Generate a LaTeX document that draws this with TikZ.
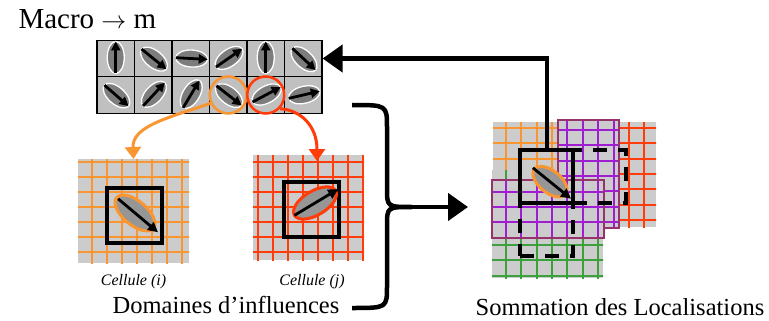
\documentclass[tikz,border=0pt]{standalone}
\usepackage{fontspec}
\setmainfont{Liberation Serif}
\usetikzlibrary{arrows.meta}
\definecolor{macgray}{RGB}{192,192,192}
\definecolor{patchgray}{RGB}{204,204,204}
\definecolor{ellgray}{RGB}{125,125,125}
\definecolor{ellgray2}{RGB}{150,150,150}
\definecolor{orgc}{RGB}{250,150,50}
\definecolor{redc}{RGB}{255,60,10}
\definecolor{purc}{RGB}{160,30,210}
\definecolor{purb}{RGB}{150,50,110}
\definecolor{grnc}{RGB}{60,160,60}

\begin{document}
\begin{tikzpicture}[x=1pt, y=-1pt,
    mcell/.style={rectangle, draw=black, fill=macgray, line width=1.2pt, minimum width=37.5pt, minimum height=36.5pt, inner sep=0pt},
    plaque/.style={rectangle, fill=patchgray, inner sep=0pt, outer sep=0pt},
    glines/.style={line width=2pt},
    orient/.style={fill=ellgray, draw=white, line width=1.3pt},
    infl/.style={fill=ellgray2, line width=3pt},
    vecarrow/.style={-{Triangle[length=9pt, width=9pt]}, line width=2.8pt},
    vecarrow2/.style={-{Triangle[length=10pt, width=10pt]}, line width=2.8pt},
    cadre/.style={rectangle, draw=black, line width=4pt, minimum size=55pt, inner sep=0pt},
    cadretiret/.style={cadre, minimum size=53pt, dash pattern=on 14pt off 11pt},
    linkarrow/.style={-{Triangle[length=12pt, width=16pt]}, line width=3pt},
    bigarrow/.style={-{Triangle[length=20pt, width=27pt]}, line width=4.5pt},
    brace/.style={line width=4.5pt},
    label/.style={font=\fontsize{24.5}{28}\selectfont, anchor=base}
]
    \useasboundingbox (0,0) rectangle (769,321);

    % Macro grid
    \node[anchor=base west, font=\fontsize{29}{32}\selectfont] (titre) at (15,29) {Macro $\rightarrow$ m};
    \foreach \a [count=\j] in {90,-39,-3,35,90,-43} {
        \node[mcell] (m1\j) at ({97+37.5*(\j-0.5)},58.5) {};
        \begin{scope}[shift={(m1\j.center)}, rotate=\a]
            \draw[orient] (1pt,0pt) ellipse [x radius=16pt, y radius=8.5pt];
            \draw[vecarrow] (-15pt,0pt) -- (17pt,0pt);
        \end{scope}
    }
    \foreach \a [count=\j] in {-41,47,59,-38,28,13} {
        \node[mcell] (m2\j) at ({97+37.5*(\j-0.5)},95) {};
        \begin{scope}[shift={(m2\j.center)}, rotate=\a]
            \draw[orient] (1pt,0pt) ellipse [x radius=16pt, y radius=8.5pt];
            \draw[vecarrow] (-15pt,0pt) -- (17pt,0pt);
        \end{scope}
    }
    \node[circle, draw=orgc, line width=2.5pt, minimum size=37pt, inner sep=0pt] (circi) at (m24) {};
    \node[circle, draw=redc, line width=2.5pt, minimum size=37pt, inner sep=0pt] (circj) at (m25) {};

    % Cellule (i)
    \node[plaque, minimum width=111pt, minimum height=104pt] (celli) at (133.5,211) {};
    \begin{scope}
        \clip (celli.south west) rectangle (celli.north east);
        \foreach \x in {91.7,106.7,...,190} \draw[glines, orgc] (\x,150) -- (\x,270);
        \foreach \y in {161.7,176.7,...,265} \draw[glines, orgc] (70,\y) -- (200,\y);
    \end{scope}
    \node[cadre] (boxi) at (134.2,215) {};
    \begin{scope}[shift={(135,213)}, rotate=-40]
        \draw[infl, draw=orgc] (0pt,0pt) ellipse [x radius=24pt, y radius=12pt];
        \draw[vecarrow2] (-22pt,0pt) -- (30pt,0pt);
    \end{scope}
    \node[anchor=base, font=\fontsize{16}{18}\selectfont\itshape] (labi) at (133.5,285) {Cellule (i)};

    % Cellule (j)
    \node[plaque, minimum width=111pt, minimum height=105pt] (cellj) at (308.5,207.5) {};
    \begin{scope}
        \clip (cellj.south west) rectangle (cellj.north east);
        \foreach \x in {258.3,273.3,...,365} \draw[glines, redc] (\x,150) -- (\x,270);
        \foreach \y in {161.7,176.7,...,262} \draw[glines, redc] (245,\y) -- (370,\y);
    \end{scope}
    \node[cadre] (boxj) at (311.3,209.5) {};
    \begin{scope}[shift={(315,203)}, rotate=31]
        \draw[infl, draw=redc] (0pt,0pt) ellipse [x radius=24pt, y radius=12pt];
        \draw[vecarrow2] (-24pt,0pt) -- (27pt,0pt);
    \end{scope}
    \node[anchor=base, font=\fontsize{16}{18}\selectfont\itshape] (labj) at (312,285) {Cellule (j)};

    \node[label] (domaines) at (226,313) {Domaines d’influences};

    % Links from the macro grid
    \draw[linkarrow, orgc] (circi.205) .. controls (168,118) and (132,126) .. (celli.north);
    \draw[linkarrow, redc] (circj.-44) .. controls (300,110) and (317,125) .. ([xshift=8.5pt, yshift=-6pt]cellj.north);

    % Brace
    \coordinate (btop) at (352,105);
    \coordinate (bbot) at (352,308);
    \coordinate (btip) at (412,207);
    \coordinate (sumin) at (468,207);
    \draw[brace] (btop) .. controls (387,105) .. (387,128) -- (387,188)
        .. controls (387,207) .. (btip) .. controls (387,207) .. (387,226)
        -- (387,286) .. controls (387,308) .. (bbot);
    \draw[bigarrow] (btip) -- (sumin);

    % Sommation
    \node[plaque, minimum width=110pt, minimum height=105pt] (sumr) at (601,174.5) {};
    \begin{scope}
        \clip (sumr.south west) rectangle (sumr.north east);
        \foreach \x in {490.3,505.7,...,665} \draw[glines, redc] (\x,110) -- (\x,240);
        \foreach \y in {128,143.3,...,235} \draw[glines, redc] (480,\y) -- (670,\y);
    \end{scope}
    \node[plaque, minimum width=110pt, minimum height=104pt] (sumo) at (548,174) {};
    \begin{scope}
        \clip (sumo.south west) rectangle (sumo.north east);
        \foreach \x in {490.3,505.7,...,610} \draw[glines, orgc] (\x,110) -- (\x,240);
        \foreach \y in {128,143.3,...,235} \draw[glines, orgc] (480,\y) -- (620,\y);
    \end{scope}
    \node[plaque, minimum width=111pt, minimum height=108pt] (sumg) at (547.5,224) {};
    \begin{scope}
        \clip (sumg.south west) rectangle (sumg.north east);
        \foreach \x in {490.3,505.7,...,610} \draw[glines, grnc] (\x,160) -- (\x,290);
        \foreach \y in {245,260.3,...,285} \draw[glines, grnc] (480,\y) -- (620,\y);
    \end{scope}
    \node[plaque, minimum width=61pt, minimum height=108pt] (sumpt) at (588.5,174) {};
    \begin{scope}
        \clip (sumpt.south west) rectangle (sumpt.north east);
        \foreach \x in {567.3,582.7,...,620} \draw[glines, purc] (\x,110) -- (\x,240);
        \foreach \y in {130,145.3,...,230} \draw[glines, purc] (550,\y) -- (630,\y);
    \end{scope}
    \draw[purb, line width=1.6pt] (sumpt.south west) rectangle (sumpt.north east);
    \node[plaque, minimum width=112pt, minimum height=58pt] (sumpb) at (548,209) {};
    \begin{scope}
        \clip (sumpb.south west) rectangle (sumpb.north east);
        \foreach \x in {490.3,505.7,...,610} \draw[glines, purc] (\x,170) -- (\x,250);
        \foreach \y in {191.7,207,...,240} \draw[glines, purc] (480,\y) -- (620,\y);
    \end{scope}
    \draw[purb, line width=1.6pt] (sumpb.south west) rectangle (sumpb.north east);

    \node[cadretiret] (sumd1) at (599.5,176.5) {};
    \node[cadretiret] (sumd2) at (546.5,229) {};
    \node[cadre, minimum size=53pt] (sumbox) at (546.8,176) {};
    \begin{scope}[shift={(550,181.7)}, rotate=-39]
        \draw[infl, draw=orgc] (0pt,0pt) ellipse [x radius=20pt, y radius=11pt];
        \draw[vecarrow2] (-22pt,0pt) -- (27pt,0pt);
    \end{scope}
    \node[label] (sommation) at (620,315) {Sommation des Localisations};

    % Back to the macro grid
    \draw[bigarrow] (sumbox.north) |- (m16.east);
\end{tikzpicture}
\end{document}
